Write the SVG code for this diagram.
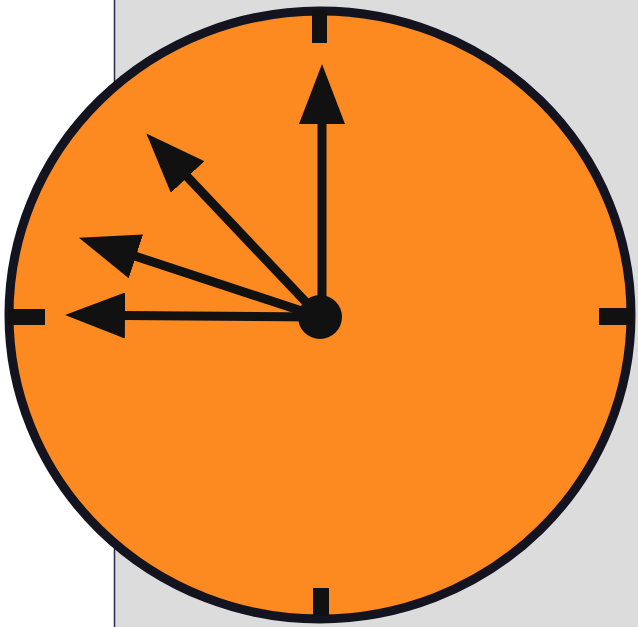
<svg xmlns="http://www.w3.org/2000/svg" width="638" height="627" viewBox="0 0 638 627">
  <style>
    .tick { fill: #111; }
    .hand { stroke: #111; stroke-width: 9; fill: none; marker-end: url(#head); }
  </style>
  <defs>
    <marker id="head" markerUnits="userSpaceOnUse" viewBox="0 0 60 46" refX="2" refY="23" markerWidth="60" markerHeight="46" orient="auto">
      <path d="M0,0 L60,23 L0,46 Z" fill="#111"/>
    </marker>
  </defs>
  <rect x="0" y="0" width="638" height="627" fill="#ffffff"/>
  <g id="panel">
    <rect x="114.5" y="-2" width="530" height="632" fill="#dcdcdc" stroke="#2a2a4a" stroke-width="1.5"/>
  </g>
  <g id="dial">
    <ellipse cx="320" cy="315" rx="311" ry="304" fill="#fc8a20" stroke="#141420" stroke-width="9"/>
    <rect class="tick" x="312" y="10" width="15" height="33"/>
    <rect class="tick" x="313" y="588" width="16" height="28"/>
    <rect class="tick" x="8" y="309" width="37" height="16"/>
    <rect class="tick" x="599" y="308" width="34" height="17"/>
  </g>
  <g id="hands">
    <line class="hand" x1="322" y1="317" x2="322" y2="122"/>
    <line class="hand" x1="320" y1="317" x2="123" y2="315.5"/>
    <line class="hand" x1="320" y1="317" x2="134" y2="255.8"/>
    <line class="hand" x1="320" y1="317" x2="186.2" y2="175.6"/>
  </g>
  <g id="hub">
    <circle cx="320" cy="317" r="22" fill="#111"/>
  </g>
</svg>
